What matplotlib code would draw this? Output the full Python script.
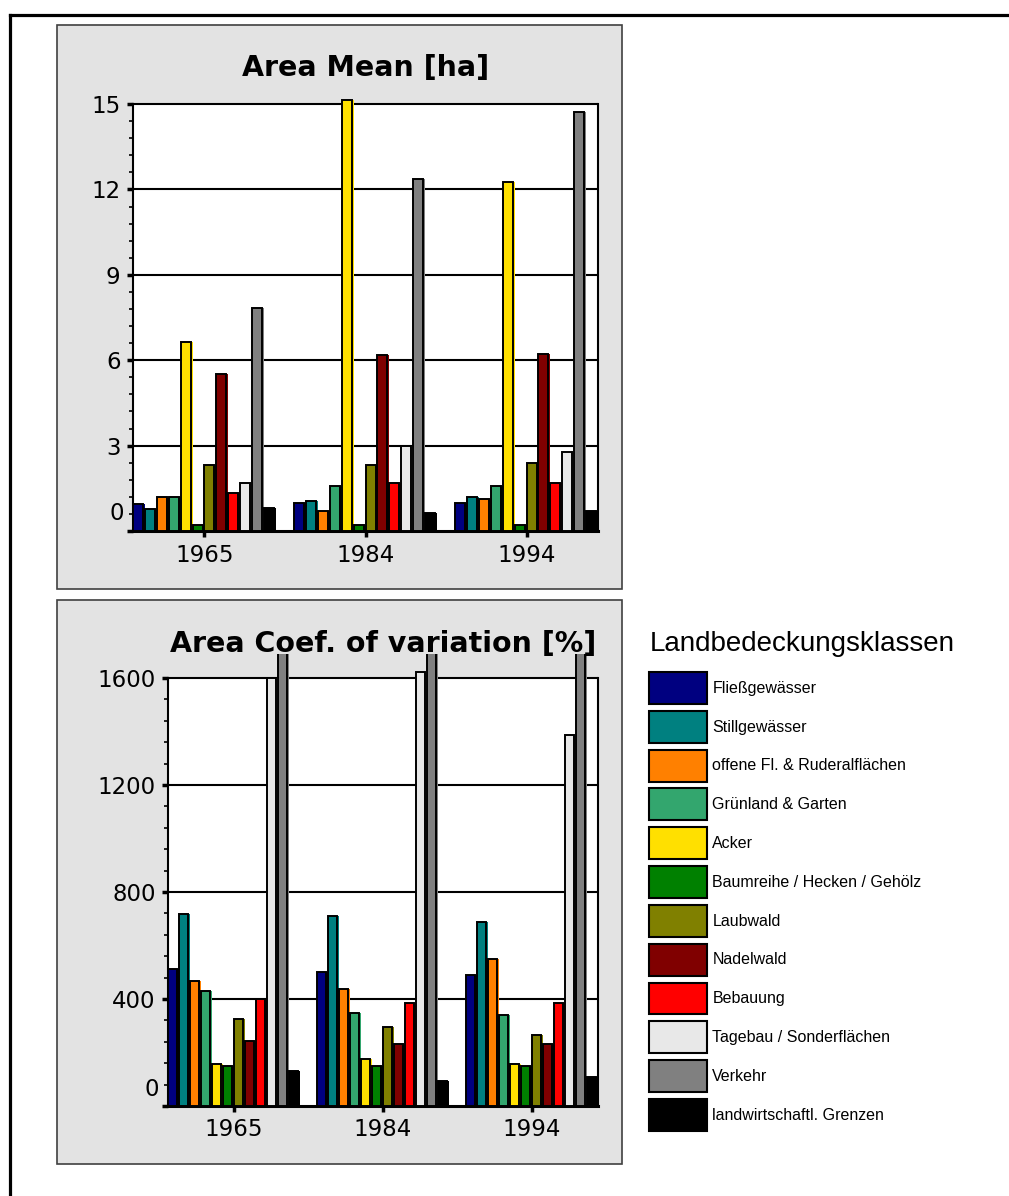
import numpy as np
import matplotlib
matplotlib.use("Agg")
import matplotlib.pyplot as plt
from matplotlib.patches import Rectangle, Patch
from matplotlib.lines import Line2D
from matplotlib.ticker import FixedLocator

# --- Daten ---
years = ["1965", "1984", "1994"]
classes = ["Fließgewässer", "Stillgewässer", "offene Fl. & Ruderalflächen",
           "Grünland & Garten", "Acker", "Baumreihe / Hecken / Gehölz",
           "Laubwald", "Nadelwald", "Bebauung", "Tagebau / Sonderflächen",
           "Verkehr", "landwirtschaftl. Grenzen"]
colors = ["#000080", "#008080", "#ff8000", "#33a66e", "#ffe000", "#008000",
          "#808000", "#800000", "#ff0000", "#e8e8e8", "#808080", "#000000"]

# Area Mean [ha]
mean_1965 = [0.94, 0.77, 1.20, 1.20, 6.65, 0.22, 2.31, 5.51, 1.35, 1.70, 7.83, 0.80]
mean_1984 = [0.99, 1.07, 0.71, 1.57, 15.15, 0.22, 2.31, 6.17, 1.70, 2.98, 12.38, 0.64]
mean_1994 = [0.99, 1.20, 1.14, 1.57, 12.25, 0.22, 2.40, 6.21, 1.70, 2.76, 14.72, 0.71]

# Area Coef. of variation [%]  (Verkehr oberhalb des Rahmens abgeschnitten)
cv_1965 = [514, 717, 469, 430, 158, 151, 325, 243, 400, 1600, 1750, 130]
cv_1984 = [500, 710, 438, 349, 175, 151, 295, 233, 386, 1621, 1800, 93]
cv_1994 = [490, 688, 551, 340, 158, 151, 264, 233, 386, 1388, 1850, 107]

W, H = 1009, 1196
fig = plt.figure(figsize=(W / 100, H / 100), dpi=100)


def fx(px):
    return px / W


def fy(py):
    return 1 - py / H


# Rahmen aussen
fig.add_artist(Line2D([fx(10), 1], [fy(15), fy(15)], color="black", lw=2.3))
fig.add_artist(Line2D([fx(10), fx(10)], [fy(15), 0], color="black", lw=2.3))

# graue Panels
for top, bottom in [(25, 589), (600, 1164)]:
    fig.add_artist(Rectangle((fx(57), fy(bottom)), fx(622) - fx(57), fy(top) - fy(bottom),
                             facecolor="#e3e3e3", edgecolor="#404040", lw=1.2, zorder=0))

group_width = 0.888
tick_font = {"family": "DejaVu Sans", "size": 16.5}


def draw_chart(rect, series, top_val, ylim_top, ticks, title, title_y):
    l, t, r, b = rect
    ax = fig.add_axes([fx(l), fy(b), fx(r) - fx(l), fy(t) - fy(b)])
    ax.patch.set_visible(False)
    ax.axhspan(0, top_val, color="white", zorder=0)
    n = len(classes)
    bw = group_width / n
    x0 = np.arange(len(years)) - group_width / 2
    for i, col in enumerate(colors):
        vals = [s[i] for s in series]
        xs = x0 + i * bw
        # farbiger Schatten rechts
        ax.bar(xs, vals, width=bw, align="edge", color=col, lw=0, zorder=2)
        ax.bar(xs, vals, width=bw * 0.84, align="edge", color=col,
               edgecolor="black", lw=1.4, zorder=3)
    for tv in ticks[1:]:
        ax.axhline(tv, color="black", lw=1.5, zorder=1)
    ax.set_xlim(-0.5 * group_width, len(years) - 1 + 0.5 * group_width)
    ax.set_ylim(0, ylim_top)
    ax.spines["top"].set_visible(False)
    for s in ["left", "right"]:
        ax.spines[s].set_bounds(0, top_val)
        ax.spines[s].set_linewidth(1.5)
    ax.spines["bottom"].set_linewidth(2.2)
    ax.set_yticks(ticks)
    ax.set_yticklabels([""] + [str(v) for v in ticks[1:]], fontdict=tick_font)
    ax.annotate("0", xy=(0, 0), xycoords=("axes fraction", "data"), xytext=(-9, 17),
                textcoords="offset pixels", ha="right", va="center", **tick_font)
    step = ticks[1] / 5
    ax.yaxis.set_minor_locator(FixedLocator(np.arange(0, top_val + step / 2, step)))
    ax.tick_params(axis="y", which="major", direction="out", length=4, width=2.5, pad=5)
    ax.tick_params(axis="y", which="minor", direction="out", length=3, width=1.2)
    ax.set_xticks(range(len(years)))
    ax.set_xticklabels(years, fontdict=tick_font)
    ax.tick_params(axis="x", direction="out", length=4, width=2.5, pad=5)
    fig.text(fx((l + r) / 2), fy(title_y), title, ha="center", va="center",
             family="DejaVu Sans", weight="bold", size=20.5)
    return ax


draw_chart((133, 95.5, 598, 531), [mean_1965, mean_1984, mean_1994], 15, 15.3,
           [0, 3, 6, 9, 12, 15], "Area Mean [ha]", 68)
draw_chart((168, 654, 598, 1106), [cv_1965, cv_1984, cv_1994], 1600, 1690,
           [0, 400, 800, 1200, 1600], "Area Coef. of variation [%]", 644)

# Legende
fig.text(fx(650), fy(644), "Landbedeckungsklassen", ha="left", va="center",
         family="Liberation Sans", size=20)
handles = [Patch(facecolor=c, edgecolor="black", lw=1.5, label=k) for k, c in zip(classes, colors)]
fig.legend(handles=handles, loc="upper left", bbox_to_anchor=(fx(649), fy(672)),
           frameon=False, prop={"family": "Liberation Sans", "size": 11.5},
           handlelength=3.6, handleheight=2.7, labelspacing=0.43,
           handletextpad=0.37, borderpad=0, borderaxespad=0)

fig.savefig("out.png", dpi=100)
